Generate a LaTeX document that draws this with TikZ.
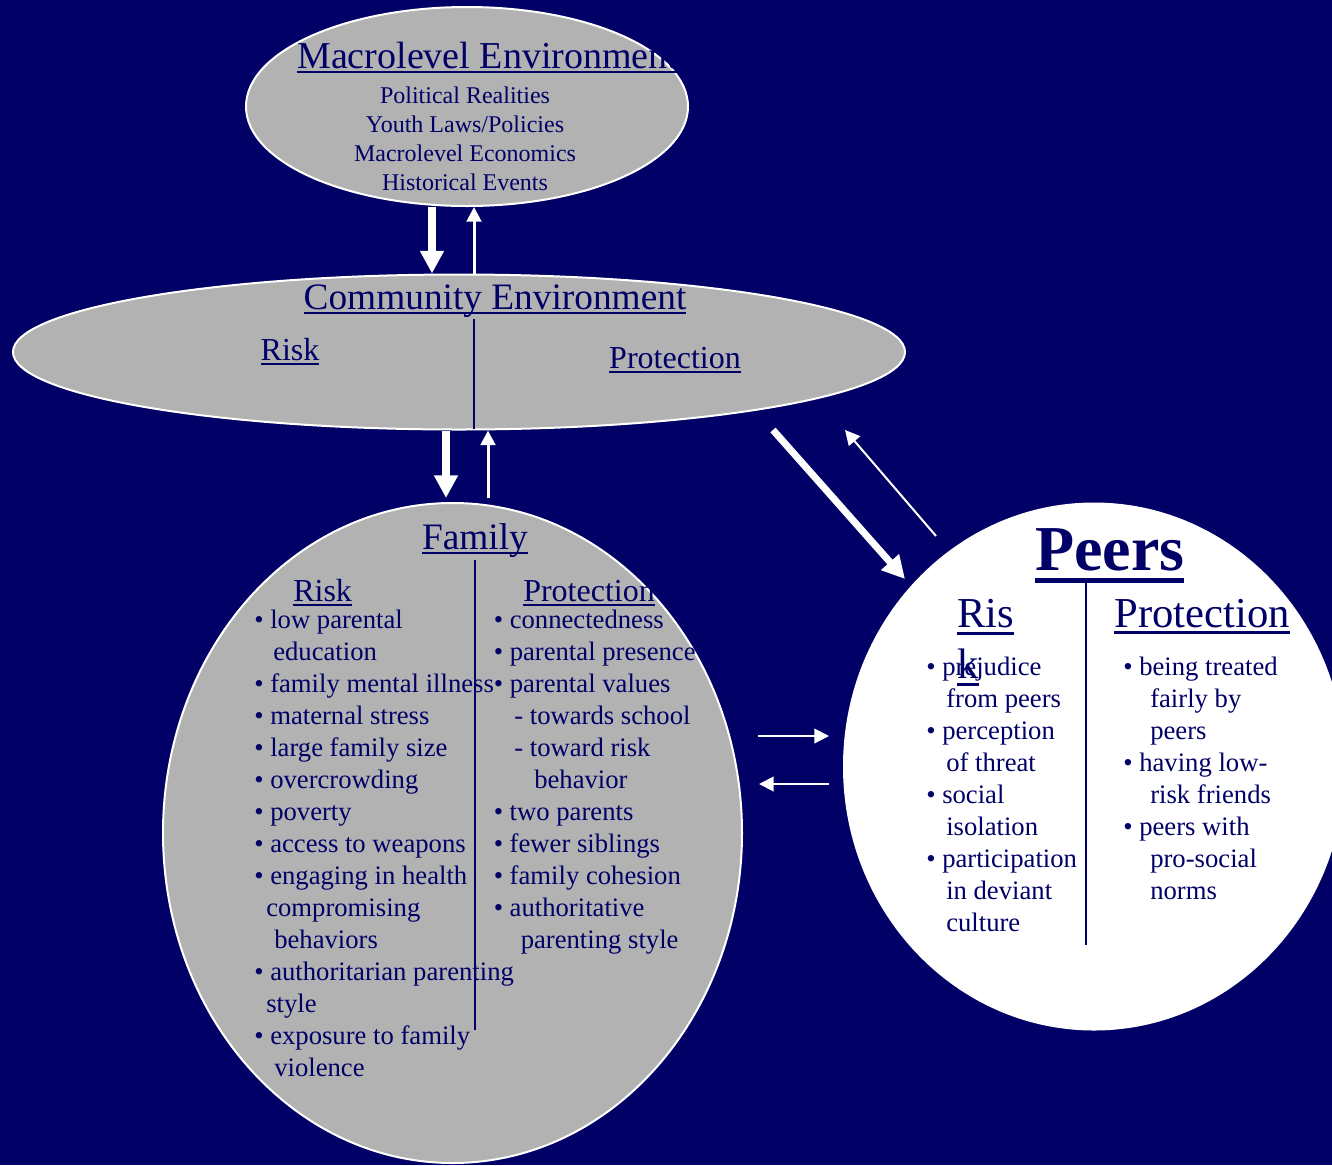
\documentclass[tikz,border=0pt]{standalone}
\usepackage{fontspec}
\setmainfont{Liberation Serif}
\usetikzlibrary{shapes.geometric,arrows.meta}

\definecolor{navy}{RGB}{0,0,102}
\definecolor{panel}{RGB}{178,178,178}

% underlined word: [depth of rule]{thickness}{text}
\newcommand{\ulr}[3][-4pt]{\setbox0\hbox{#3}\leavevmode\rlap{\copy0}\rule[#1]{\wd0}{#2}}

\tikzset{
  oval/.style={ellipse, fill=panel, draw=white, line width=1.5pt, inner sep=0pt},
  heading/.style={text=navy, inner sep=0pt},
  listtext/.style={text=navy, inner sep=0pt, anchor=north west, align=left,
    font=\fontsize{20}{24}\selectfont},
  bigarrow/.style={white, line width=6pt, -{Triangle[length=17pt,width=17pt]}},
  smallarrow/.style={white, line width=2.25pt, -{Triangle[length=11pt,width=11pt]}},
  divider/.style={navy, line width=1.5pt}
}

\begin{document}
\begin{tikzpicture}[x=0.75pt, y=-0.75pt]
    % background
    \useasboundingbox (0,0) rectangle (1332,1165);
    \fill[navy] (0,0) rectangle (1332,1165);
    % macrolevel
    \node[oval, minimum width=331.5pt, minimum height=149.25pt] (macro) at (467,106.5) {};
    \node[heading, anchor=base west, font=\fontsize{28.5}{34}\selectfont] (macrotitle) at (297,68)
        {\ulr{1.5pt}{Macrolevel Environment}};
    \node[heading, anchor=north, align=center, font=\fontsize{18}{21.75}\selectfont] (macrolist) at (465,82.7)
        {\strut Political Realities\\Youth Laws/Policies\\Macrolevel Economics\\Historical Events};
    % community
    \node[oval, minimum width=669pt, minimum height=116.25pt] (community) at (459,352) {};
    \node[heading, anchor=base, font=\fontsize{28}{34}\selectfont] (commtitle) at (495,309)
        {\ulr{1.5pt}{Community Environment}};
    \node[heading, anchor=base, font=\fontsize{24}{29}\selectfont] (commrisk) at (290,360) {\ulr{1.5pt}{Risk}};
    \node[heading, anchor=base, font=\fontsize{24}{29}\selectfont] (commprot) at (675,368) {\ulr{1.5pt}{Protection}};
    \draw[divider] (474,319) -- (474,429);
    % family
    \node[oval, minimum width=434.25pt, minimum height=495pt] (family) at (452.5,833) {};
    \node[heading, anchor=base, font=\fontsize{28}{34}\selectfont] (famtitle) at (475,549) {\ulr{1.5pt}{Family}};
    \node[heading, anchor=base west, font=\fontsize{24}{29}\selectfont] (famrisk) at (293,601) {\ulr{1.5pt}{Risk}};
    \node[heading, anchor=base west, font=\fontsize{24}{29}\selectfont] (famprot) at (523,601) {\ulr{1.5pt}{Protection}};
    \draw[divider] (474.5,560) -- (474.5,1030);
    \node[listtext] (famrisklist) at (254,605.6) {\strut• low parental\\
        \hspace*{14.25pt}education\\
        • family mental illness\\
        • maternal stress\\
        • large family size\\
        • overcrowding\\
        • poverty\\
        • access to weapons\\
        • engaging in health\\
        \hspace*{9pt}compromising\\
        \hspace*{15pt}behaviors\\
        • authoritarian parenting\\
        \hspace*{9pt}style\\
        • exposure to family\\
        \hspace*{15pt}violence};
    \node[listtext] (famprotlist) at (493.5,605.6) {\strut• connectedness\\
        • parental presence\\
        • parental values\\
        \hspace*{15.4pt}- towards school\\
        \hspace*{15.4pt}- toward risk\\
        \hspace*{30.4pt}behavior\\
        • two parents\\
        • fewer siblings\\
        • family cohesion\\
        • authoritative\\
        \hspace*{20.25pt}parenting style};
    % peers
    \node[ellipse, fill=white, inner sep=0pt, minimum width=376.5pt, minimum height=396pt] (peers) at (1094,766.5) {};
    \node[heading, anchor=base west, font=\bfseries\fontsize{48}{58}\selectfont] (peerstitle) at (1035,570)
        {\ulr[-9.75pt]{4pt}{Peers}};
    \node[heading, anchor=base west, font=\fontsize{32}{38.4}\selectfont] (peersprot) at (1114,627)
        {\ulr[-5.6pt]{2.25pt}{Protection}};
    \draw[divider] (1086,583) -- (1086,945);
    \node[listtext] (peersrisklist) at (926,652.6) {\strut• prejudice\\
        \hspace*{15pt}from peers\\
        • perception\\
        \hspace*{15pt}of threat\\
        • social\\
        \hspace*{15pt}isolation\\
        • participation\\
        \hspace*{15pt}in deviant\\
        \hspace*{15pt}culture};
    \node[listtext] (peersprotlist) at (1123,652.6) {\strut• being treated\\
        \hspace*{20.25pt}fairly by\\
        \hspace*{20.25pt}peers\\
        • having low-\\
        \hspace*{20.25pt}risk friends\\
        • peers with\\
        \hspace*{20.25pt}pro-social\\
        \hspace*{20.25pt}norms};
    \node[heading, anchor=north west, align=left, font=\fontsize{32}{38.4}\selectfont] (peersrisk) at (957,591.2)
        {\strut\ulr[-5.6pt]{2.25pt}{Ris}\\\ulr[-5.6pt]{2.25pt}{k}};
    % macro <-> community
    \coordinate (downA) at (432,0);
    \coordinate (upA) at (474,0);
    \draw[bigarrow] (downA |- macro.south) -- (downA |- community.north);
    \draw[smallarrow] (upA |- community.north) -- (upA |- macro.south);
    % community <-> family
    \coordinate (downB) at (446,0);
    \coordinate (upB) at (488,0);
    \draw[bigarrow, shorten >=3pt] (downB |- community.south) -- (downB |- family.north);
    \draw[smallarrow, shorten <=3pt] (upB |- family.north) -- (upB |- community.south);
    % community <-> peers
    \coordinate (diagfrom) at (773,430);
    \coordinate (diagto) at (905,579);
    \coordinate (diagback) at (936,536);
    \coordinate (diagbackto) at (845,430);
    \draw[bigarrow, line width=5.25pt] (diagfrom) -- (diagto);
    \draw[smallarrow, line width=1.5pt] (diagback) -- (diagbackto);
    % family <-> peers
    \coordinate (famout) at (758,736);
    \coordinate (peersin) at (829,736);
    \coordinate (peersout) at (829,784);
    \coordinate (famin) at (759,784);
    \draw[smallarrow, line width=1.5pt] (famout) -- (peersin);
    \draw[smallarrow, line width=1.5pt] (peersout) -- (famin);
\end{tikzpicture}
\end{document}
